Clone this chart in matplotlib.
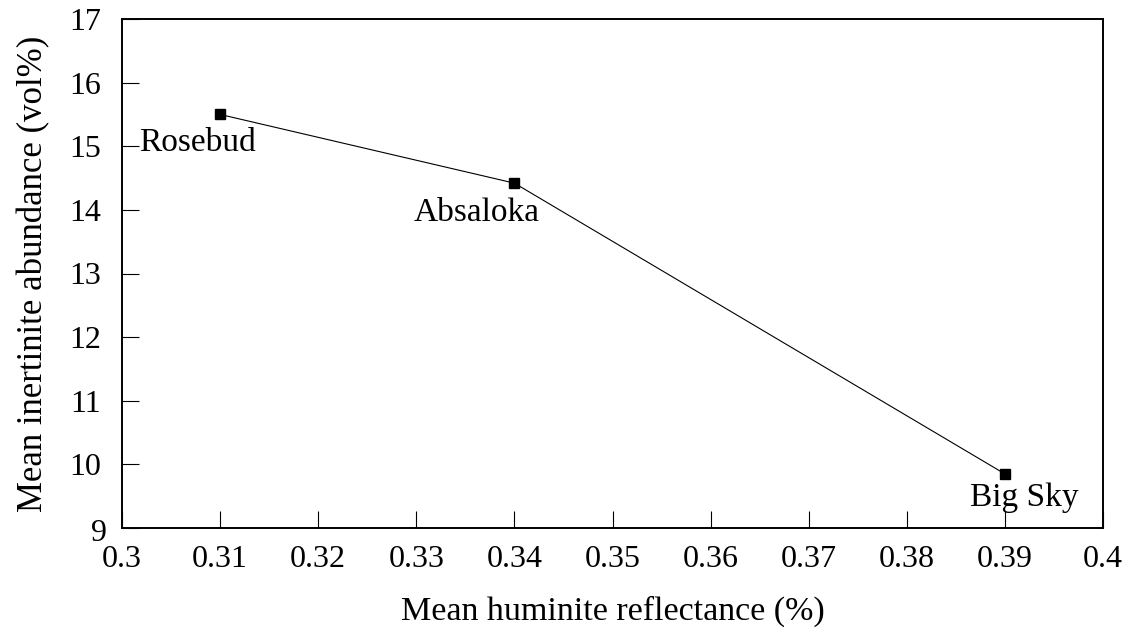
import matplotlib.pyplot as plt

# Données
reflectance = [0.31, 0.34, 0.39]          # Mean huminite reflectance (%)
inertinite = [15.5, 14.42, 9.85]          # Mean inertinite abundance (vol%)
names = ["Rosebud", "Absaloka", "Big Sky"]
name_pos = [(0.3017, 15.05), (0.3362, 13.95), (0.392, 9.47)]
name_ha = ["left", "center", "center"]
xticks = [0.3, 0.31, 0.32, 0.33, 0.34, 0.35, 0.36, 0.37, 0.38, 0.39, 0.4]
xlabels = ["0.3", "0.31", "0.32", "0.33", "0.34", "0.35", "0.36",
           "0.37", "0.38", "0.39", "0.4"]
yticks = [9, 10, 11, 12, 13, 14, 15, 16, 17]

plt.rcParams['font.family'] = ['Liberation Serif', 'DejaVu Serif']

fig = plt.figure(figsize=(11.29, 6.30), dpi=100)
ax = fig.add_axes([122/1129, 1 - 528/630, (1103-122)/1129, (528-19)/630])

ax.plot(reflectance, inertinite, color='black', linewidth=0.8,
        marker='s', markersize=7)

for n, (x, y), ha in zip(names, name_pos, name_ha):
    ax.text(x, y, n, fontsize=24, ha=ha, va='center')

ax.set_xlim(0.3, 0.4)
ax.set_ylim(9, 17)
ax.set_xticks(xticks)
ax.set_xticklabels(xlabels)
ax.set_yticks(yticks)
# le "9" est décalé vers le bas dans l'original : on l'écrit à part
ax.set_yticklabels([""] + [str(v) for v in yticks[1:]])
ax.annotate(str(yticks[0]), xy=(0, 9), xycoords=('axes fraction', 'data'),
            xytext=(-11, -4), textcoords='offset points',
            ha='right', va='center', fontsize=23)

ax.tick_params(direction='in', length=12, width=0.8, labelsize=23)
ax.tick_params(axis='x', pad=12)
ax.tick_params(axis='y', pad=15)
for s in ax.spines.values():
    s.set_linewidth(1.4)

ax.set_xlabel("Mean huminite reflectance (%)", fontsize=24.5, labelpad=16)
ax.set_ylabel("Mean inertinite abundance (vol%)", fontsize=25, labelpad=14)

fig.savefig("out.png", dpi=100)
